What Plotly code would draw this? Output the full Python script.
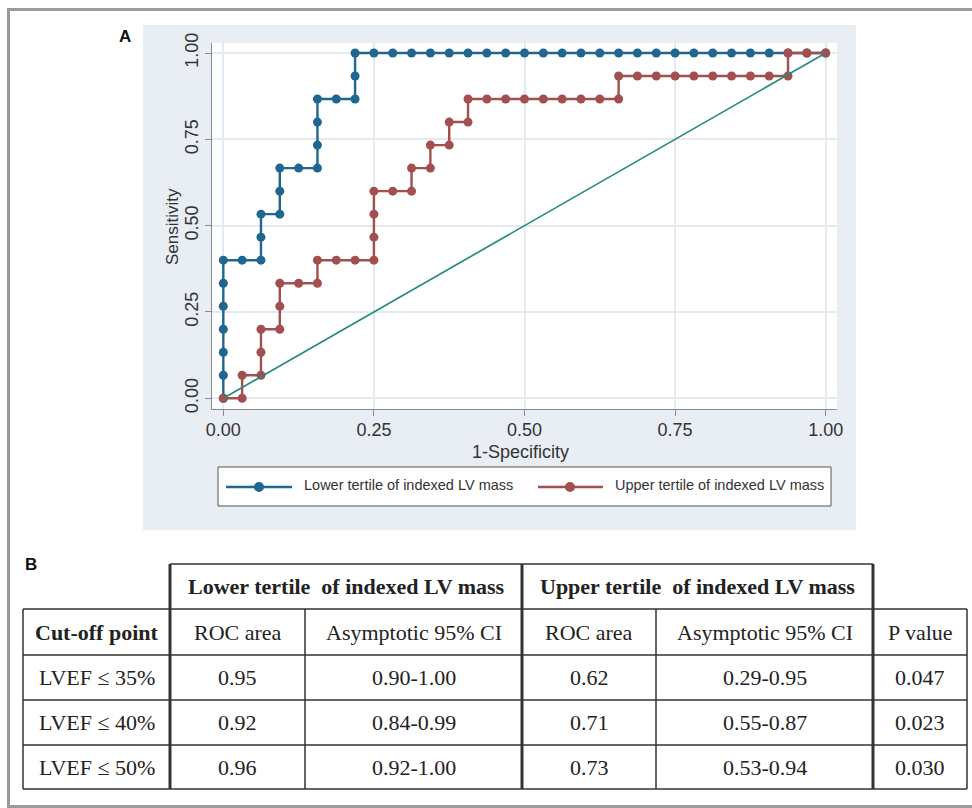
import plotly.graph_objects as go

# ---------------- data ----------------
# ROC curve, lower tertile of indexed LV mass (1-specificity, sensitivity)
lower_fpr = [0, 0, 0, 0, 0, 0, 0,
             0.03125, 0.0625, 0.0625, 0.0625, 0.09375, 0.09375, 0.09375,
             0.125, 0.15625, 0.15625, 0.15625, 0.15625, 0.1875, 0.21875, 0.21875, 0.21875,
             0.25, 0.28125, 0.3125, 0.34375, 0.375, 0.40625, 0.4375, 0.46875,
             0.5, 0.53125, 0.5625, 0.59375, 0.625, 0.65625, 0.6875, 0.71875,
             0.75, 0.78125, 0.8125, 0.84375, 0.875, 0.90625, 0.9375, 0.96875, 1.0]
lower_sens = [0, 0.0667, 0.1333, 0.2, 0.2667, 0.3333, 0.4,
              0.4, 0.4, 0.4667, 0.5333, 0.5333, 0.6, 0.6667,
              0.6667, 0.6667, 0.7333, 0.8, 0.8667, 0.8667, 0.8667, 0.9333, 1.0,
              1.0, 1.0, 1.0, 1.0, 1.0, 1.0, 1.0, 1.0,
              1.0, 1.0, 1.0, 1.0, 1.0, 1.0, 1.0, 1.0,
              1.0, 1.0, 1.0, 1.0, 1.0, 1.0, 1.0, 1.0, 1.0]

# ROC curve, upper tertile of indexed LV mass
upper_fpr = [0, 0.03125, 0.03125, 0.0625, 0.0625, 0.0625, 0.09375, 0.09375, 0.09375,
             0.125, 0.15625, 0.15625, 0.1875, 0.21875, 0.25, 0.25, 0.25, 0.25,
             0.28125, 0.3125, 0.3125, 0.34375, 0.34375, 0.375, 0.375, 0.40625, 0.40625,
             0.4375, 0.46875, 0.5, 0.53125, 0.5625, 0.59375, 0.625, 0.65625, 0.65625,
             0.6875, 0.71875, 0.75, 0.78125, 0.8125, 0.84375, 0.875, 0.90625, 0.9375,
             0.9375, 0.96875, 1.0]
upper_sens = [0, 0, 0.0667, 0.0667, 0.1333, 0.2, 0.2, 0.2667, 0.3333,
              0.3333, 0.3333, 0.4, 0.4, 0.4, 0.4, 0.4667, 0.5333, 0.6,
              0.6, 0.6, 0.6667, 0.6667, 0.7333, 0.7333, 0.8, 0.8, 0.8667,
              0.8667, 0.8667, 0.8667, 0.8667, 0.8667, 0.8667, 0.8667, 0.8667, 0.9333,
              0.9333, 0.9333, 0.9333, 0.9333, 0.9333, 0.9333, 0.9333, 0.9333, 0.9333,
              1.0, 1.0, 1.0]

ref_x = [0, 1]
ref_y = [0, 1]

tick_vals = [0, 0.25, 0.5, 0.75, 1.0]
tick_text = ["0.00", "0.25", "0.50", "0.75", "1.00"]

series_names = ["Lower tertile of indexed LV mass", "Upper tertile of indexed LV mass"]

# table
group_headers = ["Lower tertile\u00a0 of indexed LV mass", "Upper tertile\u00a0 of indexed LV mass"]
col_headers = ["Cut-off point", "ROC area", "Asymptotic 95% CI", "ROC area", "Asymptotic 95% CI", "P value"]
cutoffs = ["LVEF \u2264 35%", "LVEF \u2264 40%", "LVEF \u2264 50%"]
lower_auc = ["0.95", "0.92", "0.96"]
lower_ci = ["0.90-1.00", "0.84-0.99", "0.92-1.00"]
upper_auc = ["0.62", "0.71", "0.73"]
upper_ci = ["0.29-0.95", "0.55-0.87", "0.53-0.94"]
p_values = ["0.047", "0.023", "0.030"]

# ---------------- styling ----------------
BLUE = "#1f6690"
RED = "#a34f4f"
TEAL = "#268b80"
W, H = 972, 808
L, R, T, B = 212, 837, 43, 409


def px(x):
    return (x - L) / (R - L)


def py(y):
    return (B - y) / (B - T)


fig = go.Figure()
fig.add_trace(go.Scatter(x=lower_fpr, y=lower_sens, mode="lines+markers",
                         line=dict(color=BLUE, width=2.4), marker=dict(color=BLUE, size=9),
                         name=series_names[0]))
fig.add_trace(go.Scatter(x=upper_fpr, y=upper_sens, mode="lines+markers",
                         line=dict(color=RED, width=2.4), marker=dict(color=RED, size=9),
                         name=series_names[1]))
fig.add_trace(go.Scatter(x=ref_x, y=ref_y, mode="lines",
                         line=dict(color=TEAL, width=1.7), showlegend=False))

axis_common = dict(showline=True, linecolor="#8a8a8a", linewidth=1.2,
                   ticks="outside", ticklen=6, tickcolor="#8a8a8a", tickwidth=1.2,
                   showgrid=True, gridcolor="#e3ebf0", gridwidth=1.5, zeroline=False,
                   tickvals=tick_vals, ticktext=tick_text,
                   tickfont=dict(family="Liberation Sans, Arial", size=18, color="#333333"))

fig.update_layout(
    width=W, height=H,
    margin=dict(l=L, r=W - R, t=T, b=H - B),
    paper_bgcolor="white", plot_bgcolor="white",
    showlegend=False,
    xaxis=dict(range=[-0.0188, 1.0188], ticklabelstandoff=-2, **axis_common),
    yaxis=dict(range=[-0.031, 1.029], tickangle=-90, **axis_common),
)

shapes = []
# outer frame
shapes.append(dict(type="rect", xref="paper", yref="paper", x0=px(8.5), x1=px(990), y0=py(806.5), y1=py(9.5),
                   line=dict(color="#9b9b9b", width=3), fillcolor="rgba(0,0,0,0)", layer="below"))
# panel A background
shapes.append(dict(type="rect", xref="paper", yref="paper", x0=px(143), x1=px(856), y0=py(530), y1=py(25),
                   line=dict(width=0), fillcolor="#e8eef3", layer="below"))
shapes.append(dict(type="rect", xref="paper", yref="paper", x0=0, x1=1, y0=0, y1=1,
                   line=dict(width=0), fillcolor="white", layer="below"))
# legend box
shapes.append(dict(type="rect", xref="paper", yref="paper", x0=px(218), x1=px(831), y0=py(506), y1=py(467),
                   line=dict(color="#555555", width=1), fillcolor="white", layer="above"))
leg_y = 487
for (x0, x1, xc, col) in [(226, 292, 259, BLUE), (538, 603, 570, RED)]:
    shapes.append(dict(type="line", xref="paper", yref="paper", x0=px(x0), x1=px(x1), y0=py(leg_y), y1=py(leg_y),
                       line=dict(color=col, width=2.4), layer="above"))
    shapes.append(dict(type="circle", xref="paper", yref="paper", x0=px(xc - 5), x1=px(xc + 5),
                       y0=py(leg_y + 5), y1=py(leg_y - 5), line=dict(color=col, width=0),
                       fillcolor=col, layer="above"))

# table lines
TC = "#333333"
cols = [23, 170, 305, 522, 656, 873, 967]
rows = [564, 609, 655, 700, 745, 789]


def seg(x0, y0, x1, y1, w=1.5):
    shapes.append(dict(type="line", xref="paper", yref="paper", x0=px(x0), x1=px(x1), y0=py(y0), y1=py(y1),
                       line=dict(color=TC, width=w), layer="above"))


seg(cols[1], rows[0], cols[5], rows[0])
for r in rows[1:]:
    seg(cols[0], r, cols[6], r)
seg(cols[0], rows[1], cols[0], rows[5])
seg(cols[6], rows[1], cols[6], rows[5])
for c in (cols[2], cols[4]):
    seg(c, rows[1], c, rows[5])
for c in (cols[1], cols[3], cols[5]):
    seg(c, rows[0], c, rows[5], w=3)

annotations = []


def txt(x, y, s, size, family, bold=False, xanchor="center", angle=0, color="#222222"):
    annotations.append(dict(xref="paper", yref="paper", x=px(x), y=py(y), text=("<b>%s</b>" % s) if bold else s,
                            showarrow=False, xanchor=xanchor, yanchor="middle", textangle=angle,
                            font=dict(family=family, size=size, color=color)))


SANS = "Liberation Sans, Arial"
SERIF = "Liberation Serif, Times New Roman, DejaVu Serif"

txt(125, 37, "A", 17, SANS, bold=True, color="#111111")
txt(31, 564, "B", 17, SANS, bold=True, color="#111111")
txt(172, 227, "Sensitivity", 17, SANS, angle=-90, color="#333333")
txt(520, 452, "1-Specificity", 18, SANS, color="#333333")
txt(302, 485, series_names[0], 14.5, SANS, xanchor="left", color="#333333")
txt(613, 485, series_names[1], 14.5, SANS, xanchor="left", color="#333333")

# table text
txt((cols[1] + cols[3]) / 2, (rows[0] + rows[1]) / 2, group_headers[0], 22, SERIF, bold=True)
txt((cols[3] + cols[5]) / 2, (rows[0] + rows[1]) / 2, group_headers[1], 22, SERIF, bold=True)
for i, h in enumerate(col_headers):
    txt((cols[i] + cols[i + 1]) / 2, (rows[1] + rows[2]) / 2, h, 22, SERIF, bold=(i == 0))
for r in range(3):
    vals = [cutoffs[r], lower_auc[r], lower_ci[r], upper_auc[r], upper_ci[r], p_values[r]]
    for i, v in enumerate(vals):
        txt((cols[i] + cols[i + 1]) / 2, (rows[r + 2] + rows[r + 3]) / 2, v, 22, SERIF)

fig.update_layout(shapes=shapes, annotations=annotations)
fig.write_html("out.html")
